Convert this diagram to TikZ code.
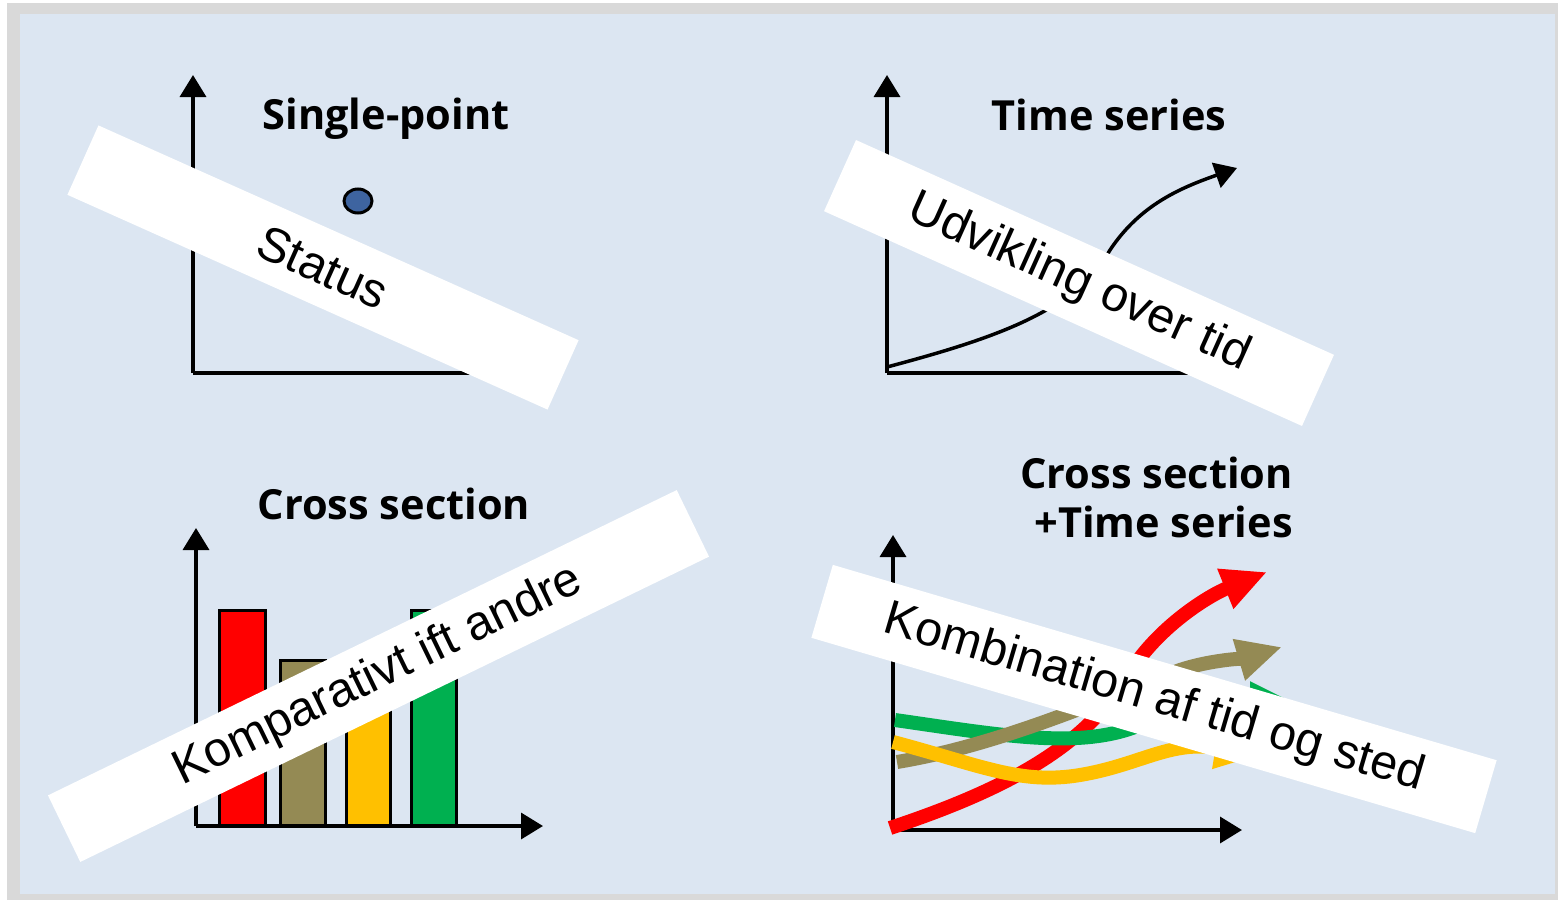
\documentclass[tikz,border=0pt]{standalone}
\usepackage{fontspec}
\usetikzlibrary{arrows.meta,shapes.geometric}
\newfontfamily\tfont{Open Sans}
\newfontfamily\lfont{Liberation Sans}
\definecolor{bgblue}{HTML}{DCE6F2}
\definecolor{frame}{HTML}{D9D9D9}
\definecolor{dotblue}{HTML}{3E64A0}
\definecolor{cred}{HTML}{FF0000}
\definecolor{colive}{HTML}{948A54}
\definecolor{cyellow}{HTML}{FFC000}
\definecolor{cgreen}{HTML}{00B050}
\tikzset{
  axis/.style={line width=3.5pt,-{Triangle[length=22pt,width=26pt]}},
  title/.style={font=\tfont\bfseries\fontsize{41.5}{49}\selectfont,inner sep=0pt},
  labelbox/.style={fill=white,inner sep=0pt,font=\lfont\fontsize{48.5}{58}\selectfont},
  bar/.style={draw=black,line width=3pt},
  fatline/.style={line width=14pt,-{Triangle[length=45pt,width=40pt]}},
}
\begin{document}
\begin{tikzpicture}[x=1pt,y=-1pt]
\useasboundingbox (0,0) rectangle (1558,900);
\fill[white] (0,0) rectangle (1558,900);
\fill[frame] (7,3) rectangle (1558,900);
\fill[bgblue] (20,14) rectangle (1555,894);

% ---------- Panel 1: Single-point
\coordinate (o1) at (193,373);
\coordinate (y1) at (193,75);
\coordinate (x1) at (540,373);
\draw[axis] (o1) -- (y1);
\draw[axis] (o1) -- (x1);
\node[title] (t1) at (386,119) {Single-point};
\node[draw=black,line width=3pt,fill=dotblue,ellipse,minimum width=28pt,minimum height=24pt,inner sep=0pt] (dot) at (358,201) {};

% ---------- Panel 2: Time series
\coordinate (o2) at (887,373);
\coordinate (y2) at (887,75);
\coordinate (x2) at (1245,373);
\coordinate (c2s) at (887,367);
\coordinate (c2e) at (1237,168);
\draw[axis] (o2) -- (y2);
\draw[axis] (o2) -- (x2);
\node[title] (t2) at (1109,115) {Time series};
\draw[line width=3.5pt,-{Triangle[length=22pt,width=26pt]}] (c2s) .. controls (1000,337) and (1075,310) .. (1110,250) .. controls (1140,205) and (1180,188) .. (c2e);

% ---------- Panel 3: Cross section
\coordinate (o3) at (196,826);
\coordinate (y3) at (196,528);
\coordinate (x3) at (543,826);
\fill[cred] (219,610) rectangle (265,826);
\draw[bar] (219,826) -- (219,610) -- (265,610) -- (265,826);
\fill[colive] (280,660) rectangle (325,826);
\draw[bar] (280,826) -- (280,660) -- (325,660) -- (325,826);
\fill[cyellow] (346,690) rectangle (390,826);
\draw[bar] (346,826) -- (346,690) -- (390,690) -- (390,826);
\fill[cgreen] (411,610) rectangle (456,826);
\draw[bar] (411,826) -- (411,610) -- (456,610) -- (456,826);
\draw[axis] (o3) -- (y3);
\draw[axis] (o3) -- (x3);
\node[title] (t3) at (394,504) {Cross section};

% ---------- Panel 4: Cross section + Time series
\coordinate (o4) at (893,830);
\coordinate (y4) at (893,535);
\coordinate (x4) at (1242,830);
\draw[axis] (o4) -- (y4);
\draw[axis] (o4) -- (x4);
\node[title,align=right,anchor=north east] (t4) at (1293,457) {Cross section\\+Time series};
\coordinate (rs) at (890,828);
\coordinate (re) at (1267,572);
\coordinate (gs) at (895,720);
\coordinate (ge) at (1295,703);
\coordinate (os) at (897,762);
\coordinate (oe) at (1282,647);
\coordinate (ys) at (893,742);
\coordinate (ye) at (1260,755);
\draw[fatline,draw=cred] (rs) .. controls (1020,785) and (1090,740) .. (1130,672) .. controls (1160,625) and (1210,595) .. (re);
\draw[fatline,draw=cgreen] (gs) .. controls (1000,735) and (1080,750) .. (1140,725) .. controls (1180,708) and (1220,703) .. (ge);
\draw[fatline,draw=colive] (os) .. controls (1000,745) and (1100,700) .. (1180,670) .. controls (1210,660) and (1245,658) .. (oe);
\draw[fatline,draw=cyellow] (ys) .. controls (980,765) and (1020,785) .. (1080,775) .. controls (1140,765) and (1170,740) .. (ye);

% ---------- White label boxes
\node[labelbox,rotate=-24.1,minimum width=526pt,minimum height=76pt] (b1) at (323,267.5) {Status};
\node[labelbox,rotate=-24.2,minimum width=524pt,minimum height=78pt] (b2) at (1079,283) {Udvikling over tid};
\node[labelbox,rotate=25.9,minimum width=699pt,minimum height=74pt] (b3) at (378.5,676) {Komparativt ift andre};
\node[labelbox,rotate=-16.4,minimum width=692pt,minimum height=76pt] (b4) at (1154,699) {Kombination af tid og sted};
\end{tikzpicture}
\end{document}
